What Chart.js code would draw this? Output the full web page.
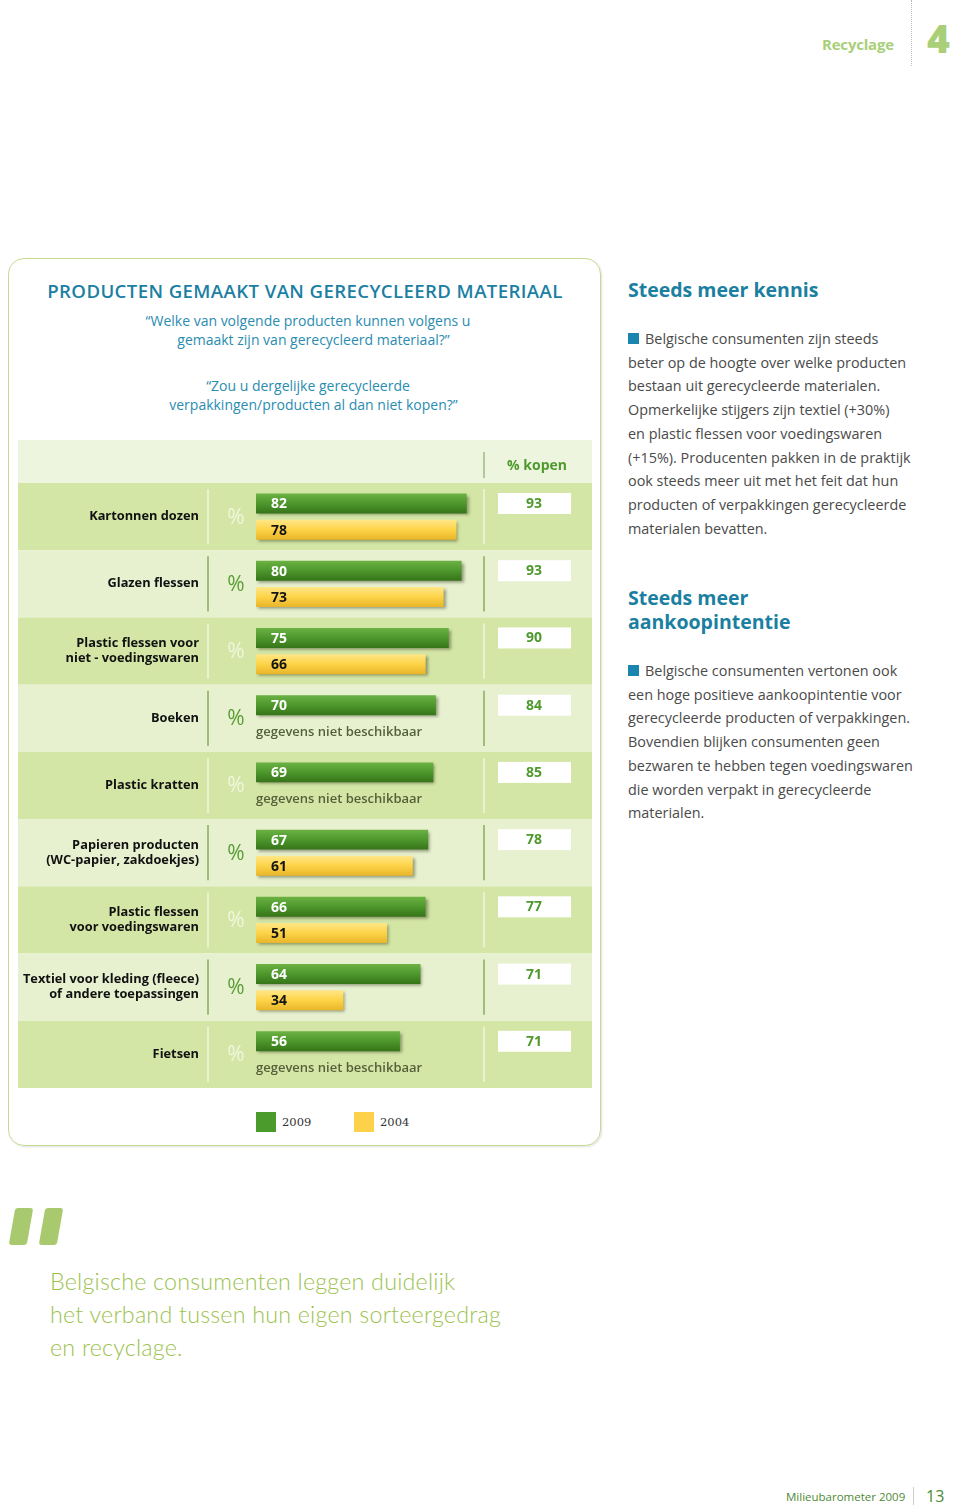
<!DOCTYPE html>
<html>
<head>
<meta charset="utf-8">
<script src="https://cdn.jsdelivr.net/npm/chart.js@4.4.1/dist/chart.umd.min.js"></script>
<style>
  html, body { margin: 0; padding: 0; background: #fff; }
  body { width: 960px; height: 1506px; position: relative; overflow: hidden; font-family: "Open Sans", sans-serif; }
  .abs { position: absolute; }
  #box { left: 8px; top: 258px; width: 591px; height: 886px; border: 1.5px solid #c6da92; border-radius: 16px; box-shadow: 1px 1px 2px rgba(0,0,0,0.12); }
  #title { left: 8px; width: 594px; top: 279px; text-align: center; font-weight: 600; font-size: 18.6px; line-height: 24px; color: #1b7fa3; letter-spacing: 0.4px; }
  .q { left: 8px; width: 600px; text-align: center; font-size: 14px; line-height: 19px; color: #2a8cb0; }
  #chartWrap { left: 18px; top: 440px; width: 574px; height: 648px; }
  .leg { top: 1112px; width: 20px; height: 20px; }
  .legt { top: 1113px; font-family: Georgia, "DejaVu Serif", serif; font-size: 11.5px; line-height: 18px; color: #333; }
  .h2 { left: 628px; font-weight: 700; font-size: 19.5px; line-height: 24px; color: #1a7fa0; }
  .body { left: 628px; font-size: 14.4px; line-height: 23.7px; color: #4a4a4a; white-space: nowrap; }
  .bul { display: inline-block; width: 11px; height: 11px; background: #1a86b0; margin-right: 6px; vertical-align: 0px; }
  .qm { top: 1208px; width: 18px; height: 37px; background: #a9c96e; transform: skewX(-10deg); border-radius: 3px; }
  #quote { left: 50px; top: 1265px; font-family: Lato, sans-serif; font-weight: 300; font-size: 23.3px; line-height: 33px; color: #9cc24e; white-space: nowrap; letter-spacing: 0.2px; }
</style>
</head>
<body>
<div class="abs" style="left:822px; top:34px; font-weight:700; font-size:15px; color:#a9cf78; letter-spacing:-0.2px;">Recyclage</div>
<div class="abs" style="left:911px; top:0; height:66px; border-left:1.5px dotted #bbbbbb;"></div>
<div class="abs" style="left:927px; top:16px; font-weight:800; font-size:39px; line-height:44px; color:#a9cf78;">4</div>

<div id="box" class="abs"></div>
<div id="title" class="abs">PRODUCTEN GEMAAKT VAN GERECYCLEERD MATERIAAL</div>
<div class="abs q" style="top:311px;">“Welke van volgende producten kunnen volgens u<br>&nbsp;&nbsp;&nbsp;gemaakt zijn van gerecycleerd materiaal?”</div>
<div class="abs q" style="top:376px;">“Zou u dergelijke gerecycleerde<br>&nbsp;&nbsp;&nbsp;verpakkingen/producten al dan niet kopen?”</div>

<div id="chartWrap" class="abs"><canvas id="chart"></canvas></div>

<div class="abs leg" style="left:256px; background:#4b9a2c;"></div>
<div class="abs legt" style="left:282px;">2009</div>
<div class="abs leg" style="left:354px; background:#fdd24a;"></div>
<div class="abs legt" style="left:380px;">2004</div>

<div class="abs h2" style="top:278px;">Steeds meer kennis</div>
<div class="abs body" style="top:327px;"><span class="bul"></span>Belgische consumenten zijn steeds<br>beter op de hoogte over welke producten<br>bestaan uit gerecycleerde materialen.<br>Opmerkelijke stijgers zijn textiel (+30%)<br>en plastic flessen voor voedingswaren<br>(+15%). Producenten pakken in de praktijk<br>ook steeds meer uit met het feit dat hun<br>producten of verpakkingen gerecycleerde<br>materialen bevatten.</div>

<div class="abs h2" style="top:586px;">Steeds meer<br>aankoopintentie</div>
<div class="abs body" style="top:659px;"><span class="bul"></span>Belgische consumenten vertonen ook<br>een hoge positieve aankoopintentie voor<br>gerecycleerde producten of verpakkingen.<br>Bovendien blijken consumenten geen<br>bezwaren te hebben tegen voedingswaren<br>die worden verpakt in gerecycleerde<br>materialen.</div>

<div class="abs qm" style="left:12px;"></div>
<div class="abs qm" style="left:42px;"></div>
<div id="quote" class="abs">Belgische consumenten leggen duidelijk<br>het verband tussen hun eigen sorteergedrag<br>en recyclage.</div>

<div class="abs" style="left:786px; top:1489px; font-size:11.5px; line-height:16px; color:#4e8a34;">Milieubarometer 2009</div>
<div class="abs" style="left:913px; top:1487px; height:18px; border-left:1px solid #cccccc;"></div>
<div class="abs" style="left:926px; top:1486px; font-size:16px; line-height:20px; color:#4e8a34;">13</div>

<script>
const categories = [
  ['Kartonnen dozen'],
  ['Glazen flessen'],
  ['Plastic flessen voor', 'niet - voedingswaren'],
  ['Boeken'],
  ['Plastic kratten'],
  ['Papieren producten', '(WC-papier, zakdoekjes)'],
  ['Plastic flessen', 'voor voedingswaren'],
  ['Textiel voor kleding (fleece)', 'of andere toepassingen'],
  ['Fietsen']
];
const seriesLabels = ['2009', '2004'];
const gemaakt2009 = [82, 80, 75, 70, 69, 67, 66, 64, 56];
const gemaakt2004 = [78, 73, 66, null, null, 61, 51, 34, null];
const kopen = [93, 93, 90, 84, 85, 78, 77, 71, 71];
const kopenTitle = '% kopen';
const noDataText = 'gegevens niet beschikbaar';

const barOffset = 13.1;

function barGradient(c, stops, flat) {
  const ch = c.chart;
  if (!ch.chartArea || c.dataIndex === undefined) return flat;
  const cy = ch.scales.y.getPixelForValue(c.dataIndex) + (c.datasetIndex === 0 ? -barOffset : barOffset);
  const g = ch.ctx.createLinearGradient(0, cy - 10, 0, cy + 10);
  stops.forEach(s => g.addColorStop(s[0], s[1]));
  return g;
}

const tablePlugin = {
  id: 'table',
  beforeDraw(chart) {
    const { ctx, chartArea: a, scales: { y } } = chart;
    const W = chart.width;
    const step = (a.bottom - a.top) / categories.length;
    ctx.save();
    // header row
    ctx.fillStyle = '#eef5de';
    ctx.fillRect(0, 0, W, a.top);
    ctx.strokeStyle = '#9fb783';
    ctx.lineWidth = 1.5;
    ctx.beginPath(); ctx.moveTo(466, 12); ctx.lineTo(466, a.top - 5); ctx.stroke();
    ctx.fillStyle = '#4f9a2e';
    ctx.font = '700 14px "Open Sans"';
    ctx.textAlign = 'center';
    ctx.textBaseline = 'middle';
    ctx.fillText(kopenTitle, 519, 26);

    categories.forEach((c, i) => {
      const cy = y.getPixelForValue(i);
      const top = cy - step / 2;
      const dark = i % 2 === 0;
      ctx.fillStyle = dark ? '#d4e6a6' : '#e7f1d0';
      ctx.fillRect(0, top, W, step);
      // separators
      ctx.strokeStyle = dark ? '#eff6df' : '#86ad5c';
      ctx.lineWidth = 1.5;
      [190, 466].forEach(x => {
        ctx.beginPath(); ctx.moveTo(x, top + 6); ctx.lineTo(x, top + step - 6); ctx.stroke();
      });
      // percent sign
      ctx.fillStyle = dark ? '#eef7dd' : '#5a9e35';
      ctx.font = '400 21px "Open Sans"';
      ctx.textAlign = 'center';
      ctx.fillText('%', 218, cy + 1);
      // kopen cell
      ctx.fillStyle = '#ffffff';
      ctx.fillRect(480, top + 10, 73, 21);
      ctx.fillStyle = '#4f9a2e';
      ctx.font = '700 14px "Open Sans"';
      ctx.fillText(String(kopen[i]), 516, top + 21);
    });
    ctx.restore();
  },
  beforeDatasetsDraw(chart) {
    const ctx = chart.ctx;
    ctx.save();
    ctx.shadowColor = 'rgba(40,50,20,0.45)';
    ctx.shadowBlur = 3;
    ctx.shadowOffsetX = 2;
    ctx.shadowOffsetY = 2;
  },
  afterDatasetsDraw(chart) {
    const { ctx, chartArea: a, scales: { y } } = chart;
    ctx.restore();
    ctx.save();
    ctx.textBaseline = 'middle';
    ctx.textAlign = 'left';
    chart.data.datasets.forEach((ds, di) => {
      ds.data.forEach((v, i) => {
        const cy = y.getPixelForValue(i) + (di === 0 ? -barOffset : barOffset);
        if (v === null) {
          ctx.fillStyle = '#55603b';
          ctx.font = '600 13px "Open Sans"';
          ctx.fillText(noDataText, a.left, cy + 1);
        } else {
          ctx.fillStyle = di === 0 ? '#ffffff' : '#151515';
          ctx.font = '700 14px "Open Sans"';
          ctx.fillText(String(v), a.left + 15, cy + 1);
        }
      });
    });
    ctx.restore();
  }
};

new Chart(document.getElementById('chart'), {
  type: 'bar',
  data: {
    labels: categories,
    datasets: [
      {
        label: seriesLabels[0],
        data: gemaakt2009,
        backgroundColor: c => barGradient(c, [[0, '#6cb244'], [0.5, '#4d972c'], [1, '#367419']], '#4b9a2c'),
        borderWidth: 0,
        categoryPercentage: 0.78,
        barPercentage: 0.76
      },
      {
        label: seriesLabels[1],
        data: gemaakt2004,
        backgroundColor: c => barGradient(c, [[0, '#ffe788'], [0.5, '#fdd347'], [1, '#e9b52a']], '#fdd24a'),
        borderWidth: 0,
        categoryPercentage: 0.78,
        barPercentage: 0.76
      }
    ]
  },
  options: {
    indexAxis: 'y',
    responsive: true,
    maintainAspectRatio: false,
    animation: false,
    layout: { padding: { top: 43, right: 79, left: 0, bottom: 0 } },
    plugins: {
      legend: { display: false },
      tooltip: { enabled: false }
    },
    scales: {
      x: { display: false, min: 0, max: 100 },
      y: {
        grid: { display: false, drawTicks: false },
        border: { display: false },
        ticks: {
          padding: 57,
          color: '#111111',
          font: { family: 'Open Sans', weight: '700', size: 12.8, lineHeight: 1.18 }
        },
        afterFit(scale) {
          scale.width = 238;
          scale.paddingTop = 0;
          scale.paddingBottom = 0;
        }
      }
    }
  },
  plugins: [tablePlugin]
});
</script>
</body>
</html>
